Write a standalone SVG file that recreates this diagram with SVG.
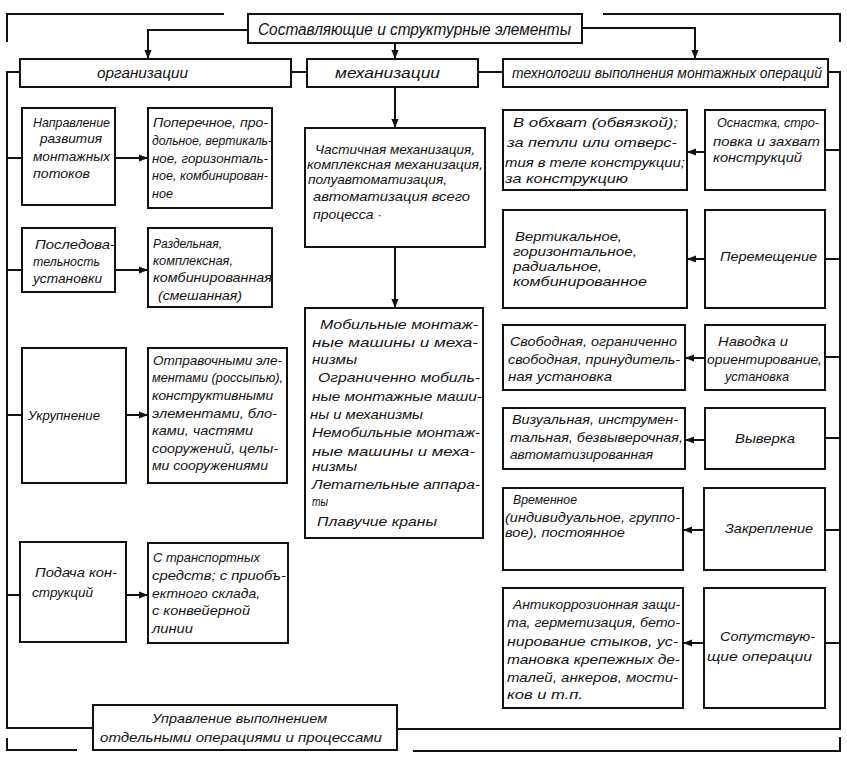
<svg xmlns="http://www.w3.org/2000/svg" width="847" height="760" viewBox="0 0 847 760">
<style>
.box{fill:#fff;stroke:#111;stroke-width:2}
.ln{fill:none;stroke:#111;stroke-width:2}
.ar{fill:none;stroke:#111;stroke-width:2;marker-end:url(#ah)}
text{font-family:"Liberation Sans","DejaVu Sans",sans-serif;font-style:italic;font-size:13px;fill:#111}
.h{font-size:15px}
.tt{font-size:16px}
</style>
<defs>
<marker id="ah" viewBox="0 0 10 10" refX="10" refY="5" markerWidth="9" markerHeight="9" markerUnits="userSpaceOnUse" orient="auto"><path d="M0,1 L10,5 L0,9 z" fill="#111"/></marker>
</defs>
<rect width="847" height="760" fill="#fff"/>

<g id="connectors">
<path class="ln" d="M7,42 V14 H224"/>
<path class="ln" d="M603,14 H840 V42"/>
<path class="ln" d="M7,738 V750 H77"/>
<path class="ln" d="M413,751 H840 V737"/>
<path class="ar" d="M248,30 H148 V59"/>
<path class="ar" d="M395,43 V59"/>
<path class="ar" d="M582,28 H695 V59"/>
<path class="ln" d="M291,72 H307"/>
<path class="ln" d="M478,72 H503"/>
<path class="ln" d="M20,72 H7 V728 H93"/>
<path class="ln" d="M7,158 H22"/>
<path class="ln" d="M7,270 H22"/>
<path class="ln" d="M7,415 H22"/>
<path class="ln" d="M7,595 H20"/>
<path class="ar" d="M115,158 H148"/>
<path class="ar" d="M115,270 H148"/>
<path class="ar" d="M126,415 H148"/>
<path class="ar" d="M126,595 H148"/>
<path class="ar" d="M395,87 V128"/>
<path class="ar" d="M395,247 V308"/>
<path class="ln" d="M828,72 H840 V729 H397"/>
<path class="ln" d="M825,150 H840"/>
<path class="ln" d="M825,259 H840"/>
<path class="ln" d="M825,357 H840"/>
<path class="ln" d="M825,438 H840"/>
<path class="ln" d="M825,530 H840"/>
<path class="ln" d="M825,643 H840"/>
<path class="ar" d="M705,152 H687"/>
<path class="ar" d="M705,259 H687"/>
<path class="ar" d="M705,358 H685"/>
<path class="ar" d="M705,440 H685"/>
<path class="ar" d="M704,530 H683"/>
<path class="ar" d="M704,643 H683"/>
</g>

<g id="title">
<rect class="box" x="248" y="14" width="334" height="29"/>
<text class="tt" x="258" y="35" textLength="313" lengthAdjust="spacingAndGlyphs">Составляющие и структурные элементы</text>
</g>

<g id="org">
<rect class="box" x="20" y="59" width="271" height="28"/>
<text class="h" x="97" y="78" textLength="91" lengthAdjust="spacingAndGlyphs">организации</text>
</g>
<g id="mech">
<rect class="box" x="307" y="59" width="171" height="28"/>
<text class="h" x="335" y="78" textLength="105" lengthAdjust="spacingAndGlyphs">механизации</text>
</g>
<g id="tech">
<rect class="box" x="503" y="59" width="325" height="28"/>
<text class="h" x="512" y="78" textLength="310" lengthAdjust="spacingAndGlyphs">технологии выполнения монтажных операций</text>
</g>

<g id="L1">
<rect class="box" x="22" y="108" width="93" height="97"/>
<text x="33" y="127" textLength="77" lengthAdjust="spacingAndGlyphs">Направление</text>
<text x="40" y="143" textLength="62" lengthAdjust="spacingAndGlyphs">развития</text>
<text x="33" y="161" textLength="77" lengthAdjust="spacingAndGlyphs">монтажных</text>
<text x="33" y="178" textLength="57" lengthAdjust="spacingAndGlyphs">потоков</text>
</g>
<g id="R1">
<rect class="box" x="148" y="108" width="124" height="100"/>
<text x="153" y="127" textLength="115" lengthAdjust="spacingAndGlyphs">Поперечное, про-</text>
<text x="152" y="145" textLength="120" lengthAdjust="spacingAndGlyphs">дольное, вертикаль-</text>
<text x="152" y="163" textLength="116" lengthAdjust="spacingAndGlyphs">ное, горизонталь-</text>
<text x="152" y="180" textLength="116" lengthAdjust="spacingAndGlyphs">ное, комбинирован-</text>
<text x="152" y="198" textLength="21" lengthAdjust="spacingAndGlyphs">ное</text>
</g>

<g id="L2">
<rect class="box" x="22" y="228" width="93" height="64"/>
<text x="35" y="249" textLength="80" lengthAdjust="spacingAndGlyphs">Последова-</text>
<text x="33" y="266" textLength="67" lengthAdjust="spacingAndGlyphs">тельность</text>
<text x="33" y="283" textLength="69" lengthAdjust="spacingAndGlyphs">установки</text>
</g>
<g id="R2">
<rect class="box" x="148" y="228" width="124" height="79"/>
<text x="153" y="248" textLength="69" lengthAdjust="spacingAndGlyphs">Раздельная,</text>
<text x="153" y="265" textLength="80" lengthAdjust="spacingAndGlyphs">комплексная,</text>
<text x="153" y="282" textLength="119" lengthAdjust="spacingAndGlyphs">комбинированная</text>
<text x="158" y="300" textLength="84" lengthAdjust="spacingAndGlyphs">(смешанная)</text>
</g>

<g id="L3">
<rect class="box" x="22" y="348" width="104" height="135"/>
<text x="28" y="420" textLength="72" lengthAdjust="spacingAndGlyphs">Укрупнение</text>
</g>
<g id="R3">
<rect class="box" x="148" y="348" width="139" height="135"/>
<text x="153" y="365" textLength="129" lengthAdjust="spacingAndGlyphs">Отправочными эле-</text>
<text x="152" y="382" textLength="131" lengthAdjust="spacingAndGlyphs">ментами (россыпью),</text>
<text x="152" y="400" textLength="121" lengthAdjust="spacingAndGlyphs">конструктивными</text>
<text x="152" y="418" textLength="125" lengthAdjust="spacingAndGlyphs">элементами, бло-</text>
<text x="152" y="435" textLength="101" lengthAdjust="spacingAndGlyphs">ками, частями</text>
<text x="152" y="453" textLength="126" lengthAdjust="spacingAndGlyphs">сооружений, целы-</text>
<text x="152" y="470" textLength="116" lengthAdjust="spacingAndGlyphs">ми сооружениями</text>
</g>

<g id="L4">
<rect class="box" x="20" y="542" width="106" height="100"/>
<text x="35" y="577" textLength="82" lengthAdjust="spacingAndGlyphs">Подача кон-</text>
<text x="32" y="597" textLength="61" lengthAdjust="spacingAndGlyphs">струкций</text>
</g>
<g id="R4">
<rect class="box" x="148" y="543" width="140" height="100"/>
<text x="153" y="562" textLength="107" lengthAdjust="spacingAndGlyphs">С транспортных</text>
<text x="152" y="580" textLength="134" lengthAdjust="spacingAndGlyphs">средств; с приобъ-</text>
<text x="152" y="598" textLength="108" lengthAdjust="spacingAndGlyphs">ектного склада,</text>
<text x="152" y="615" textLength="98" lengthAdjust="spacingAndGlyphs">с конвейерной</text>
<text x="152" y="633" textLength="41" lengthAdjust="spacingAndGlyphs">линии</text>
</g>

<g id="control">
<rect class="box" x="93" y="705" width="304" height="45"/>
<text x="152" y="723" textLength="175" lengthAdjust="spacingAndGlyphs">Управление выполнением</text>
<text x="100" y="742" textLength="282" lengthAdjust="spacingAndGlyphs">отдельными операциями и процессами</text>
</g>

<g id="M1">
<rect class="box" x="305" y="128" width="180" height="119"/>
<text x="315" y="154" textLength="160" lengthAdjust="spacingAndGlyphs">Частичная механизация,</text>
<text x="307" y="169" textLength="176" lengthAdjust="spacingAndGlyphs">комплексная механизация,</text>
<text x="308" y="184" textLength="139" lengthAdjust="spacingAndGlyphs">полуавтоматизация,</text>
<text x="313" y="201" textLength="157" lengthAdjust="spacingAndGlyphs">автоматизация всего</text>
<text x="313" y="219" textLength="69" lengthAdjust="spacingAndGlyphs">процесса ·</text>
</g>

<g id="M2">
<rect class="box" x="305" y="308" width="178" height="230"/>
<text x="320" y="329" textLength="158" lengthAdjust="spacingAndGlyphs">Мобильные монтаж-</text>
<text x="312" y="347" textLength="166" lengthAdjust="spacingAndGlyphs">ные машины и меха-</text>
<text x="312" y="364" textLength="45" lengthAdjust="spacingAndGlyphs">низмы</text>
<text x="318" y="382" textLength="162" lengthAdjust="spacingAndGlyphs">Ограниченно мобиль-</text>
<text x="312" y="401" textLength="170" lengthAdjust="spacingAndGlyphs">ные монтажные маши-</text>
<text x="310" y="419" textLength="113" lengthAdjust="spacingAndGlyphs">ны и механизмы</text>
<text x="312" y="437" textLength="168" lengthAdjust="spacingAndGlyphs">Немобильные монтаж-</text>
<text x="312" y="456" textLength="163" lengthAdjust="spacingAndGlyphs">ные машины и меха-</text>
<text x="312" y="471" textLength="45" lengthAdjust="spacingAndGlyphs">низмы</text>
<text x="312" y="489" textLength="168" lengthAdjust="spacingAndGlyphs">Летательные аппара-</text>
<text x="312" y="506" textLength="16" lengthAdjust="spacingAndGlyphs">ты</text>
<text x="317" y="526" textLength="120" lengthAdjust="spacingAndGlyphs">Плавучие краны</text>
</g>

<g id="T1">
<rect class="box" x="503" y="110" width="184" height="80"/>
<text x="513" y="127" textLength="165" lengthAdjust="spacingAndGlyphs">В обхват (обвязкой);</text>
<text x="507" y="147" textLength="170" lengthAdjust="spacingAndGlyphs">за петли или отверс-</text>
<text x="505" y="167" textLength="180" lengthAdjust="spacingAndGlyphs">тия в теле конструкции;</text>
<text x="505" y="183" textLength="123" lengthAdjust="spacingAndGlyphs">за конструкцию</text>
</g>
<g id="T1r">
<rect class="box" x="705" y="110" width="120" height="80"/>
<text x="717" y="127" textLength="102" lengthAdjust="spacingAndGlyphs">Оснастка, стро-</text>
<text x="713" y="146" textLength="107" lengthAdjust="spacingAndGlyphs">повка и захват</text>
<text x="713" y="162" textLength="89" lengthAdjust="spacingAndGlyphs">конструкций</text>
</g>

<g id="T2">
<rect class="box" x="503" y="210" width="184" height="98"/>
<text x="515" y="241" textLength="107" lengthAdjust="spacingAndGlyphs">Вертикальное,</text>
<text x="513" y="256" textLength="124" lengthAdjust="spacingAndGlyphs">горизонтальное,</text>
<text x="513" y="271" textLength="89" lengthAdjust="spacingAndGlyphs">радиальное,</text>
<text x="513" y="286" textLength="134" lengthAdjust="spacingAndGlyphs">комбинированное</text>
</g>
<g id="T2r">
<rect class="box" x="705" y="210" width="120" height="98"/>
<text x="720" y="261" textLength="97" lengthAdjust="spacingAndGlyphs">Перемещение</text>
</g>

<g id="T3">
<rect class="box" x="503" y="325" width="182" height="65"/>
<text x="510" y="346" textLength="167" lengthAdjust="spacingAndGlyphs">Свободная, ограниченно</text>
<text x="508" y="364" textLength="172" lengthAdjust="spacingAndGlyphs">свободная, принудитель-</text>
<text x="508" y="381" textLength="104" lengthAdjust="spacingAndGlyphs">ная установка</text>
</g>
<g id="T3r">
<rect class="box" x="705" y="325" width="120" height="65"/>
<text x="718" y="346" textLength="70" lengthAdjust="spacingAndGlyphs">Наводка и</text>
<text x="707" y="364" textLength="115" lengthAdjust="spacingAndGlyphs">ориентирование,</text>
<text x="725" y="381" textLength="64" lengthAdjust="spacingAndGlyphs">установка</text>
</g>

<g id="T4">
<rect class="box" x="503" y="408" width="182" height="61"/>
<text x="512" y="424" textLength="166" lengthAdjust="spacingAndGlyphs">Визуальная, инструмен-</text>
<text x="510" y="442" textLength="173" lengthAdjust="spacingAndGlyphs">тальная, безвыверочная,</text>
<text x="510" y="459" textLength="143" lengthAdjust="spacingAndGlyphs">автоматизированная</text>
</g>
<g id="T4r">
<rect class="box" x="705" y="408" width="120" height="61"/>
<text x="735" y="443" textLength="60" lengthAdjust="spacingAndGlyphs">Выверка</text>
</g>

<g id="T5">
<rect class="box" x="503" y="488" width="180" height="82"/>
<text x="513" y="504" textLength="64" lengthAdjust="spacingAndGlyphs">Временное</text>
<text x="505" y="522" textLength="175" lengthAdjust="spacingAndGlyphs">(индивидуальное, группо-</text>
<text x="505" y="537" textLength="120" lengthAdjust="spacingAndGlyphs">вое), постоянное</text>
</g>
<g id="T5r">
<rect class="box" x="704" y="488" width="121" height="82"/>
<text x="725" y="533" textLength="88" lengthAdjust="spacingAndGlyphs">Закрепление</text>
</g>

<g id="T6">
<rect class="box" x="503" y="588" width="180" height="120"/>
<text x="513" y="609" textLength="167" lengthAdjust="spacingAndGlyphs">Антикоррозионная защи-</text>
<text x="507" y="627" textLength="173" lengthAdjust="spacingAndGlyphs">та, герметизация, бето-</text>
<text x="507" y="646" textLength="171" lengthAdjust="spacingAndGlyphs">нирование стыков, ус-</text>
<text x="507" y="664" textLength="173" lengthAdjust="spacingAndGlyphs">тановка крепежных де-</text>
<text x="507" y="682" textLength="171" lengthAdjust="spacingAndGlyphs">талей, анкеров, мости-</text>
<text x="507" y="699" textLength="76" lengthAdjust="spacingAndGlyphs">ков и т.п.</text>
</g>
<g id="T6r">
<rect class="box" x="704" y="588" width="121" height="120"/>
<text x="720" y="641" textLength="95" lengthAdjust="spacingAndGlyphs">Сопутствую-</text>
<text x="707" y="661" textLength="105" lengthAdjust="spacingAndGlyphs">щие операции</text>
</g>
</svg>
